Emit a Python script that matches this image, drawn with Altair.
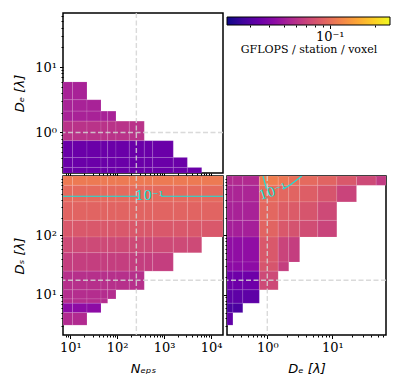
import altair as alt
import pandas as pd

# ---------------- axis domains / reference values ----------------
NEPS_DOMAIN = [7.0, 18000.0]
DE_DOMAIN = [0.24, 67.0]
DS_DOMAIN = [2.1, 1000.0]
CB_DOMAIN = [0.021, 0.25]
NEPS_REF = 256
DE_REF = 1.0
DS_REF = 17.5

# tick labels
N_MAJOR = [10, 100, 1000, 10000]
N_LABELS = ["10¹", "10²", "10³", "10⁴"]
DE_MAJOR = [1, 10]
DE_LABELS = ["10⁰", "10¹"]
DS_MAJOR = [10, 100, 1000]
DS_LABELS = ["10¹", "10²", "10³"]
CB_MAJOR = [0.1]
CB_LABELS = ["10⁻¹"]

# ---------------- top-left panel: D_e rows vs N_eps ----------------
NEPS_EDGES = [7.0, 11.2, 22.7, 45.2, 62.7, 94.2, 181, 378, 571, 1570, 3130, 6340, 18000]
TL_DE_EDGES = [5.92, 3.16, 2.12, 1.49, 0.748, 0.415, 0.292, 0.238]
TL_NEPS_RIGHT = [22.7, 45.2, 94.2, 378, 1570, 3130, 6340]
TL_VALUES = [0.0525, 0.0525, 0.0525, 0.0609, 0.0345, 0.0345, 0.0345]

# ---------------- bottom-left panel: D_s rows vs N_eps ----------------
BL_DS_EDGES = [1000, 697, 366, 179, 94, 51, 25, 12.1, 8.5, 7.2, 5.0, 3.08]
BL_NEPS_RIGHT = [18000, 18000, 18000, 18000, 6340, 1570, 378, 94.2, 62.7, 45.2, 22.7]
BL_VALUES = [0.110, 0.0975, 0.0929, 0.0841, 0.0743, 0.0673, 0.0594, 0.0579, 0.0579, 0.0431, 0.0565]

# ---------------- bottom-right panel: D_s vs D_e grid ----------------
BR_DE_EDGES = [0.24, 0.296, 0.42, 0.755, 1.47, 2.14, 3.15, 5.97, 11.75, 23.6, 47.2, 67]
BR_DS_EDGES = [1000, 697, 366, 179, 94, 35.6, 25, 12.1, 7.2, 5.0, 3.08]
_ = None
BR_VALUES = [
    [0.0565, 0.0565, 0.0565, 0.1132, 0.1077, 0.1025, 0.0975, 0.0929, 0.0841, 0.0743, 0.0656],
    [0.0538, 0.0538, 0.0538, 0.0995, 0.0951, 0.0929, 0.0883, 0.0820, 0.0707, _, _],
    [0.0525, 0.0525, 0.0525, 0.0951, 0.0883, 0.0861, 0.0820, 0.0743, _, _, _],
    [0.0512, 0.0512, 0.0512, 0.0929, 0.0841, 0.0800, 0.0762, 0.0707, _, _, _],
    [0.0441, 0.0441, 0.0441, 0.0841, 0.0707, 0.0673, _, _, _, _, _],
    [0.0431, 0.0431, 0.0431, 0.0820, 0.0673, _, _, _, _, _, _],
    [0.0353, 0.0353, 0.0353, 0.0743, _, _, _, _, _, _, _],
    [0.0320, 0.0320, 0.0320, _, _, _, _, _, _, _, _],
    [0.0283, 0.0283, _, _, _, _, _, _, _, _, _],
    [0.0328, _, _, _, _, _, _, _, _, _, _],
]

# ---------------- 10^-1 contours ----------------
BL_CONT_NEPS = [7.0, 282, 859, 18000]
BL_CONT_DS = [455, 455, 455, 455]
BL_CONT_SEG = [0, 0, 1, 1]
BR_CONT_DE = [0.86, 0.97, 1.75, 2.3, 3.4]
BR_CONT_DS = [1000, 610, 600, 720, 1000]
BR_CONT_SEG = [0, 0, 1, 1, 1]
CONT_LABEL = "10⁻¹"
BL_LABEL_POS = (489, 455)
BR_LABEL_POS = (1.22, 540)

PLASMA_STOPS = ["#0d0887", "#41049d", "#6a00a8", "#8f0da4", "#b12a90", "#cc4778",
                "#e16462", "#f2844b", "#fca636", "#fcce25", "#f0f921"]
CYAN = "#12e6de"
SERIF = "DejaVu Serif"
SANS = "DejaVu Sans"


# ---------------- build tables ----------------
def row_cells(edges_y, rights, values):
    rows = []
    for i, v in enumerate(values):
        hi, lo = edges_y[i], edges_y[i + 1]
        right = rights[i]
        xs = [e for e in NEPS_EDGES if e < right * 0.999] + [right]
        for a, b in zip(xs[:-1], xs[1:]):
            rows.append(dict(x=a, x2=b, y=lo, y2=hi, v=v))
    return pd.DataFrame(rows)


tl_df = row_cells(TL_DE_EDGES, TL_NEPS_RIGHT, TL_VALUES)
bl_df = row_cells(BL_DS_EDGES, BL_NEPS_RIGHT, BL_VALUES)

br_rows = []
for i, row in enumerate(BR_VALUES):
    for j, v in enumerate(row):
        if v is not None:
            br_rows.append(dict(x=BR_DE_EDGES[j], x2=BR_DE_EDGES[j + 1],
                                y=BR_DS_EDGES[i + 1], y2=BR_DS_EDGES[i], v=v))
br_df = pd.DataFrame(br_rows)


# ---------------- axis helpers ----------------
def tick_values(lo, hi):
    out = []
    for k in range(-3, 6):
        for m in range(1, 10):
            val = m * 10.0 ** k
            if lo * 1.0001 < val < hi * 0.9999:
                out.append(float(f"{val:.6g}"))
    return out


def is_major(majors):
    return " || ".join(f"abs(datum.value / {m} - 1) < 0.000001" for m in majors)


def log_axis(domain, majors, labels, title=None, show_labels=True):
    kw = dict(values=tick_values(*domain),
              tickSize={"condition": {"test": is_major(majors), "value": 3.5}, "value": 2},
              title=title)
    if show_labels:
        expr = "".join(f"abs(datum.value / {m} - 1) < 0.000001 ? '{l}' : "
                       for m, l in zip(majors, labels)) + "''"
        kw["labelExpr"] = expr
    else:
        kw["labels"] = False
    return alt.Axis(**kw)


def enc_x(field, domain, axis):
    return alt.X(f"{field}:Q", scale=alt.Scale(type="log", domain=domain), axis=axis)


def enc_y(field, domain, axis):
    return alt.Y(f"{field}:Q", scale=alt.Scale(type="log", domain=domain), axis=axis)


color = alt.Color("v:Q", scale=alt.Scale(type="log", scheme="plasma", domain=CB_DOMAIN),
                  legend=None)

cell_mark = dict(stroke="white", strokeWidth=0.5, strokeOpacity=0.22, clip=True)
rule_mark = dict(color="#d3d3d3", opacity=0.85, strokeWidth=1.4, strokeDash=[5, 2.5])
label_mark = dict(font=SERIF, fontSize=13, color=CYAN, baseline="middle", align="center")

ax_tl_x = log_axis(NEPS_DOMAIN, N_MAJOR, N_LABELS, show_labels=False)
ax_tl_y = log_axis(DE_DOMAIN, DE_MAJOR, DE_LABELS, title="Dₑ [λ]")
ax_bl_x = log_axis(NEPS_DOMAIN, N_MAJOR, N_LABELS, title="Nₑₚₛ")
ax_bl_y = log_axis(DS_DOMAIN, DS_MAJOR, DS_LABELS, title="Dₛ [λ]")
ax_br_x = log_axis(DE_DOMAIN, DE_MAJOR, DE_LABELS, title="Dₑ [λ]")
ax_br_y = log_axis(DS_DOMAIN, DS_MAJOR, DS_LABELS, show_labels=False)

# ---------------- top-left ----------------
tl = alt.layer(
    alt.Chart(tl_df).mark_rect(**cell_mark).encode(
        x=enc_x("x", NEPS_DOMAIN, ax_tl_x), x2="x2",
        y=enc_y("y", DE_DOMAIN, ax_tl_y), y2="y2", color=color),
    alt.Chart(pd.DataFrame({"n": [NEPS_REF]})).mark_rule(**rule_mark).encode(
        x=enc_x("n", NEPS_DOMAIN, ax_tl_x)),
    alt.Chart(pd.DataFrame({"d": [DE_REF]})).mark_rule(**rule_mark).encode(
        y=enc_y("d", DE_DOMAIN, ax_tl_y)),
).properties(width=160, height=160)

# ---------------- bottom-left ----------------
bl_cont = pd.DataFrame({"n": BL_CONT_NEPS, "d": BL_CONT_DS, "seg": BL_CONT_SEG,
                        "i": list(range(len(BL_CONT_SEG)))})
bl = alt.layer(
    alt.Chart(bl_df).mark_rect(**cell_mark).encode(
        x=enc_x("x", NEPS_DOMAIN, ax_bl_x), x2="x2",
        y=enc_y("y", DS_DOMAIN, ax_bl_y), y2="y2", color=color),
    alt.Chart(pd.DataFrame({"n": [NEPS_REF]})).mark_rule(**rule_mark).encode(
        x=enc_x("n", NEPS_DOMAIN, ax_bl_x)),
    alt.Chart(pd.DataFrame({"d": [DS_REF]})).mark_rule(**rule_mark).encode(
        y=enc_y("d", DS_DOMAIN, ax_bl_y)),
    alt.Chart(bl_cont).mark_line(color=CYAN, strokeWidth=1.1, clip=True).encode(
        x=enc_x("n", NEPS_DOMAIN, ax_bl_x), y=enc_y("d", DS_DOMAIN, ax_bl_y),
        detail="seg:N", order="i:Q"),
    alt.Chart(pd.DataFrame({"n": [BL_LABEL_POS[0]], "d": [BL_LABEL_POS[1]], "t": [CONT_LABEL]}))
    .mark_text(**label_mark).encode(
        x=enc_x("n", NEPS_DOMAIN, ax_bl_x), y=enc_y("d", DS_DOMAIN, ax_bl_y), text="t:N"),
).properties(width=160, height=159)

# ---------------- bottom-right ----------------
br_cont = pd.DataFrame({"e": BR_CONT_DE, "d": BR_CONT_DS, "seg": BR_CONT_SEG,
                        "i": list(range(len(BR_CONT_SEG)))})
br = alt.layer(
    alt.Chart(br_df).mark_rect(**cell_mark).encode(
        x=enc_x("x", DE_DOMAIN, ax_br_x), x2="x2",
        y=enc_y("y", DS_DOMAIN, ax_br_y), y2="y2", color=color),
    alt.Chart(pd.DataFrame({"e": [DE_REF]})).mark_rule(**rule_mark).encode(
        x=enc_x("e", DE_DOMAIN, ax_br_x)),
    alt.Chart(pd.DataFrame({"d": [DS_REF]})).mark_rule(**rule_mark).encode(
        y=enc_y("d", DS_DOMAIN, ax_br_y)),
    alt.Chart(br_cont).mark_line(color=CYAN, strokeWidth=1.1, clip=True).encode(
        x=enc_x("e", DE_DOMAIN, ax_br_x), y=enc_y("d", DS_DOMAIN, ax_br_y),
        detail="seg:N", order="i:Q"),
    alt.Chart(pd.DataFrame({"e": [BR_LABEL_POS[0]], "d": [BR_LABEL_POS[1]], "t": [CONT_LABEL]}))
    .mark_text(angle=342, **label_mark).encode(
        x=enc_x("e", DE_DOMAIN, ax_br_x), y=enc_y("d", DS_DOMAIN, ax_br_y), text="t:N"),
).properties(width=159, height=159)

# ---------------- colorbar ----------------
cb_axis = alt.Axis(values=tick_values(*CB_DOMAIN),
                   tickSize={"condition": {"test": is_major(CB_MAJOR), "value": 3.5}, "value": 2},
                   labelExpr="".join(f"abs(datum.value / {m} - 1) < 0.000001 ? '{l}' : "
                                     for m, l in zip(CB_MAJOR, CB_LABELS)) + "''",
                   title="GFLOPS / station / voxel", titleFont=SERIF, titleFontStyle="normal",
                   titleFontSize=11, titlePadding=0, labelPadding=2)
cb = alt.Chart(pd.DataFrame({"lo": [CB_DOMAIN[0]], "hi": [CB_DOMAIN[1]]})).mark_rect(
    fill=alt.LinearGradient(gradient="linear", x1=0, x2=1, y1=0, y2=0,
                            stops=[alt.GradientStop(color=c, offset=i / (len(PLASMA_STOPS) - 1))
                                   for i, c in enumerate(PLASMA_STOPS)]),
    stroke="black", strokeWidth=1,
).encode(
    x=alt.X("lo:Q", scale=alt.Scale(type="log", domain=CB_DOMAIN), axis=cb_axis),
    x2="hi:Q",
    y=alt.YDatum(0, scale=alt.Scale(domain=[0, 3]), axis=None),
    y2=alt.Y2Datum(2),
).properties(width=163, height=12, view=alt.ViewBackground(strokeOpacity=0))

chart = alt.concat(tl, cb, bl, br, columns=2, spacing={"row": 3, "column": 4}).properties(
    bounds="flush",
    padding={"left": 4, "top": 1, "right": 0, "bottom": 0},
    background="white",
).configure_view(
    stroke="black", strokeWidth=1.5
).configure_axis(
    domain=False, grid=False, tickColor="black", tickWidth=1,
    labelFont=SERIF, labelFontSize=13, labelColor="black", labelPadding=3,
    labelOverlap=False, labelFlush=False,
    titleFont=SANS, titleFontSize=13, titleFontStyle="italic", titleFontWeight="normal",
    titleColor="black", titlePadding=8,
)

chart.save("out.html", embed_options={"renderer": "svg", "actions": False})
